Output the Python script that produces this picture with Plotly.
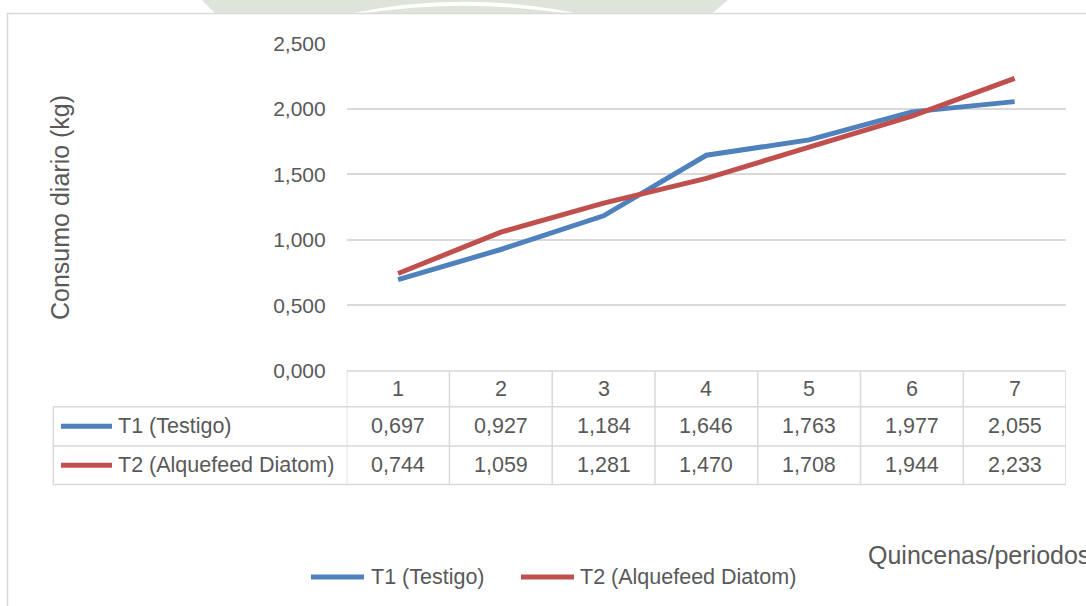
import plotly.graph_objects as go

# ---- data ----
periods = [1, 2, 3, 4, 5, 6, 7]
period_labels = ["1", "2", "3", "4", "5", "6", "7"]
t1_name = "T1 (Testigo)"
t2_name = "T2 (Alquefeed Diatom)"
t1_values = [0.697, 0.927, 1.184, 1.646, 1.763, 1.977, 2.055]
t2_values = [0.744, 1.059, 1.281, 1.470, 1.708, 1.944, 2.233]
y_title = "Consumo diario (kg)"
x_title = "Quincenas/periodos"

W, H = 1086, 606
BLUE = "#4f81bd"
RED = "#c0504d"
GRID = "#d9d9d9"
TXT = "#595959"
FONT = "Liberation Sans, Arial, sans-serif"


def px(x):
    return x / W


def py(y):
    return 1 - y / H


def fmt(v):
    return f"{v:.3f}".replace(".", ",")


X0, X1 = 346.7, 1066.0
Y0, Y1 = 371.0, 43.3  # y=0 and y=2500 pixel rows
ROW_H1, ROW_H2, ROW_B = 406.7, 446.0, 484.5
LABEL_L = 53.3

fig = go.Figure()
fig.add_trace(go.Scatter(x=periods, y=t1_values, mode="lines", name=t1_name,
                         line=dict(color=BLUE, width=5), showlegend=False))
fig.add_trace(go.Scatter(x=periods, y=t2_values, mode="lines", name=t2_name,
                         line=dict(color=RED, width=5), showlegend=False))

shapes = []
ann = []

# watermark band above the chart frame
shapes.append(dict(type="path", xref="paper", yref="paper",
                   path=f"M {px(202)},{py(0)} L {px(728)},{py(0)} L {px(712)},{py(13.5)} L {px(215)},{py(13.5)} Z",
                   fillcolor="#dfe4da", line=dict(width=0), layer="below"))
shapes.append(dict(type="path", xref="paper", yref="paper",
                   path=f"M {px(350)},{py(13.5)} Q {px(464)},{py(-10)} {px(578)},{py(13.5)} L {px(566)},{py(13.5)} Q {px(464)},{py(-2)} {px(362)},{py(13.5)} Z",
                   fillcolor="white", line=dict(width=0), layer="below"))

# chart frame (white area with border)
shapes.append(dict(type="rect", xref="paper", yref="paper",
                   x0=px(7.5), x1=px(1092), y0=py(612), y1=py(13.5),
                   fillcolor="white", line=dict(color=GRID, width=1.5), layer="below"))

# data table grid
TL = dict(color=GRID, width=1.5)
shapes.append(dict(type="line", xref="paper", yref="paper", x0=px(X0), x1=px(X1), y0=py(Y0), y1=py(Y0), line=TL))
for yy in (ROW_H1, ROW_H2, ROW_B):
    shapes.append(dict(type="line", xref="paper", yref="paper", x0=px(LABEL_L), x1=px(X1), y0=py(yy), y1=py(yy), line=TL))
shapes.append(dict(type="line", xref="paper", yref="paper", x0=px(LABEL_L), x1=px(LABEL_L), y0=py(ROW_H1), y1=py(ROW_B), line=TL))
for p in periods:
    for xb in ([p - 0.5, p + 0.5] if p == periods[0] else [p + 0.5]):
        shapes.append(dict(type="line", xref="x", yref="paper", x0=xb, x1=xb, y0=py(Y0), y1=py(ROW_B), line=TL))

# table contents
FS_TAB = 21.5
yc_head = (Y0 + ROW_H1) / 2
yc_r1 = (ROW_H1 + ROW_H2) / 2
yc_r2 = (ROW_H2 + ROW_B) / 2


def txt(x, xref, y, text, size=FS_TAB, xanchor="center", angle=0):
    return dict(x=x, xref=xref, y=y, yref="paper", text=text, showarrow=False,
                xanchor=xanchor, yanchor="middle", textangle=angle,
                font=dict(size=size, color=TXT, family=FONT))


for p, lab, a, b in zip(periods, period_labels, t1_values, t2_values):
    ann.append(txt(p, "x", py(yc_head), lab))
    ann.append(txt(p, "x", py(yc_r1), fmt(a)))
    ann.append(txt(p, "x", py(yc_r2), fmt(b)))

# series labels with keys in the table
for yc, name, col in ((yc_r1, t1_name, BLUE), (yc_r2, t2_name, RED)):
    shapes.append(dict(type="line", xref="paper", yref="paper", x0=px(61), x1=px(112),
                       y0=py(yc), y1=py(yc), line=dict(color=col, width=5)))
    ann.append(txt(px(116), "paper", py(yc), name, xanchor="left"))

# bottom legend
LEG_Y = 577
for x0l, x1l, xt, name, col in ((311, 364, 369, t1_name, BLUE), (521, 574, 578, t2_name, RED)):
    shapes.append(dict(type="line", xref="paper", yref="paper", x0=px(x0l), x1=px(x1l),
                       y0=py(LEG_Y), y1=py(LEG_Y), line=dict(color=col, width=5)))
    ann.append(txt(px(xt), "paper", py(LEG_Y), name, xanchor="left"))

# axis titles
ann.append(txt(px(60), "paper", py(208), y_title, size=25, angle=-90))
ann.append(txt(px(866), "paper", py(555), x_title, size=25, xanchor="left"))

fig.update_layout(
    width=W, height=H,
    margin=dict(l=0, r=0, t=0, b=0, pad=0, autoexpand=False),
    paper_bgcolor="white", plot_bgcolor="rgba(0,0,0,0)",
    separators=",.",
    showlegend=False,
    shapes=shapes, annotations=ann,
    xaxis=dict(domain=[px(X0), px(X1)], range=[0.5, 7.5], showgrid=False, zeroline=False,
               showticklabels=False, showline=False, ticks="", fixedrange=True, automargin=False),
    yaxis=dict(domain=[py(Y0), py(Y1)], range=[0, 2.5], dtick=0.5, tickformat=".3f",
               showgrid=True, gridcolor=GRID, gridwidth=1.5, zeroline=False, showline=False,
               ticks="", ticklabelstandoff=20, automargin=False,
               tickfont=dict(size=21, color=TXT, family=FONT)),
)

fig.write_html("out.html",
               config={"displayModeBar": False},
               post_script="document.body.style.margin='0';document.body.style.overflow='hidden';")
